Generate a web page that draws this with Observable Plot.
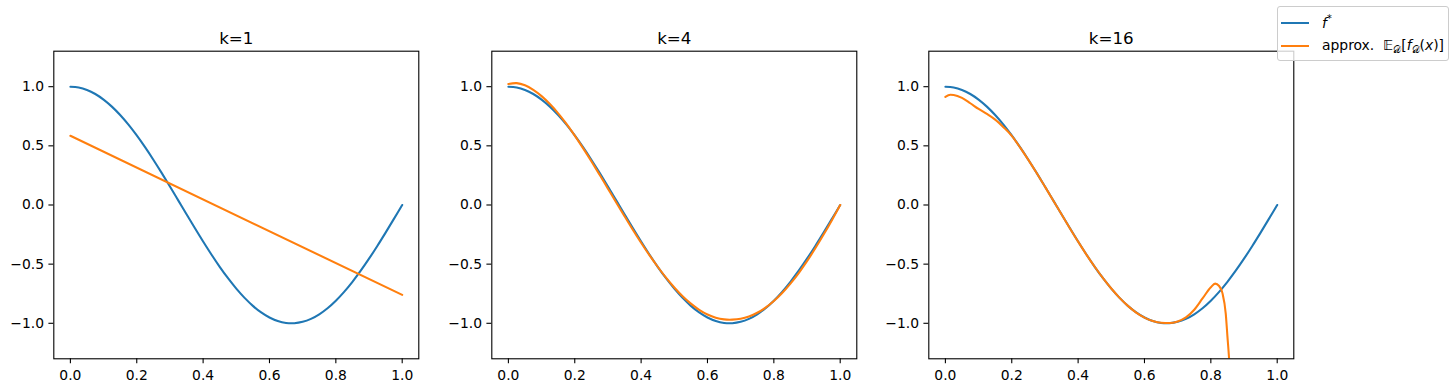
<!DOCTYPE html>
<html>
<head>
<meta charset="utf-8">
<script src="https://cdn.jsdelivr.net/npm/d3@7"></script>
<script src="https://cdn.jsdelivr.net/npm/@observablehq/plot@0.6"></script>
<style>
  html, body { margin: 0; padding: 0; background: #fff; }
  #fig { position: relative; width: 1456px; height: 392px; overflow: hidden; background: #fff; font-family: "DejaVu Sans", sans-serif; }
  .panel { position: absolute; top: 0; }
  #legend { position: absolute; left: 1277px; top: 6px; width: 170px; height: 53px; border: 1px solid #cccccc; border-radius: 3px; background: rgba(255,255,255,0.8); font-size: 13.9px; color: #000; }
  .entry { position: absolute; left: 0; height: 18px; }
  .swatch { position: absolute; left: 3px; width: 28px; height: 2px; }
  .lab { position: absolute; left: 44px; white-space: nowrap; line-height: 16px; }
  .lab sub { font-size: 9.7px; vertical-align: -3px; line-height: 0; }
  .lab sup { font-size: 9.7px; vertical-align: 6px; line-height: 0; }
</style>
</head>
<body>
<div id="fig">
  <div id="legend">
    <div class="entry" style="top:8px;"><div class="swatch" style="top:7px;background:#1f77b4;"></div><div class="lab" style="top:0px;"><i>f</i><sup>*</sup></div></div>
    <div class="entry" style="top:30px;"><div class="swatch" style="top:7.7px;background:#ff7f0e;"></div><div class="lab" style="top:0px;">approx.&nbsp;&nbsp;𝔼<sub>𝒟</sub>[<i>f</i><sub>𝒟</sub>(<i>x</i>)]</div></div>
  </div>
</div>
<script>
// ---- data ----
const titles = ["k=1", "k=4", "k=16"];
const xTicks = [0, 0.2, 0.4, 0.6, 0.8, 1.0];
const yTicks = [-1, -0.5, 0, 0.5, 1];

// common x grid for f*
const xGrid = [0, 0.025, 0.05, 0.075, 0.1, 0.125, 0.15, 0.175, 0.2, 0.225, 0.25, 0.275, 0.3, 0.325, 0.35, 0.375, 0.4, 0.425, 0.45, 0.475, 0.5, 0.525, 0.55, 0.575, 0.6, 0.625, 0.65, 0.675, 0.7, 0.725, 0.75, 0.775, 0.8, 0.825, 0.85, 0.875, 0.9, 0.925, 0.95, 0.975, 1.0];

// f* (blue, same in every panel)
const fStar = [1.0, 0.9931, 0.9724, 0.9382, 0.8910, 0.8315, 0.7604, 0.6788, 0.5878, 0.4886, 0.3827, 0.2714, 0.1564, 0.0393, -0.0785, -0.1951, -0.3090, -0.4187, -0.5225, -0.6191, -0.7071, -0.7853, -0.8526, -0.9081, -0.9511, -0.9808, -0.9969, -0.9992, -0.9877, -0.9625, -0.9239, -0.8725, -0.8090, -0.7343, -0.6494, -0.5556, -0.4540, -0.3461, -0.2334, -0.1175, 0.0];

// k=1 approximation (orange, straight line)
const approxK1X = [0, 1];
const approxK1Y = [0.585, -0.760];

// k=4 approximation (orange) on xGrid
const approxK4Y = [1.023, 1.030, 1.012, 0.973, 0.920, 0.853, 0.775, 0.686, 0.587, 0.481, 0.370, 0.255, 0.138, 0.021, -0.095, -0.209, -0.319, -0.424, -0.522, -0.614, -0.697, -0.771, -0.834, -0.886, -0.926, -0.953, -0.967, -0.969, -0.962, -0.943, -0.911, -0.868, -0.812, -0.744, -0.664, -0.575, -0.475, -0.366, -0.250, -0.128, 0.0];

// k=16 approximation (orange)
const approxK16X = [0, 0.015, 0.025, 0.05, 0.075, 0.1, 0.125, 0.15, 0.175, 0.2, 0.225, 0.25, 0.275, 0.3, 0.325, 0.35, 0.375, 0.4, 0.425, 0.45, 0.475, 0.5, 0.525, 0.55, 0.575, 0.6, 0.625, 0.65, 0.675, 0.7, 0.725, 0.75, 0.775, 0.8, 0.813, 0.825, 0.835, 0.845, 0.85, 0.855, 0.86, 0.87];
const approxK16Y = [0.913, 0.932, 0.930, 0.905, 0.860, 0.812, 0.770, 0.722, 0.658, 0.585, 0.487, 0.381, 0.270, 0.155, 0.038, -0.079, -0.196, -0.310, -0.419, -0.522, -0.618, -0.706, -0.785, -0.853, -0.909, -0.952, -0.981, -0.996, -0.998, -0.984, -0.950, -0.885, -0.790, -0.695, -0.665, -0.685, -0.745, -0.920, -1.110, -1.300, -1.550, -2.200];

// ---- build ----
const zip = (xs, ys) => xs.map((x, i) => ({x, y: ys[i]}));
const blueData = zip(xGrid, fStar);
const orangeSets = [
  {data: zip(approxK1X, approxK1Y), curve: "linear"},
  {data: zip(xGrid, approxK4Y), curve: "catmull-rom"},
  {data: zip(approxK16X, approxK16Y), curve: "monotone-x"}
];
const fmt = d => d.toFixed(1).replace("-", "\u2212");

const ML = 53.3, FW = 365, MR = 10, MT = 50.7, MB = 33.7;
const lefts = [0, 437.7, 875.4];
const fig = document.getElementById("fig");

titles.forEach((t, i) => {
  const svg = Plot.plot({
    width: ML + FW + MR,
    height: 392,
    marginLeft: ML, marginRight: MR, marginTop: MT, marginBottom: MB,
    style: {fontFamily: "DejaVu Sans, sans-serif", fontSize: "13.9px", color: "#000", background: "transparent", overflow: "visible"},
    x: {domain: [-0.05, 1.05]},
    y: {domain: [-1.3, 1.3]},
    marks: [
      Plot.axisX({ticks: xTicks, tickFormat: fmt, tickSize: 4.9, tickPadding: 6.5, strokeWidth: 1.1, fontSize: 13.9, label: null, color: "#000"}),
      Plot.axisY({ticks: yTicks, tickFormat: fmt, tickSize: 4.9, tickPadding: 4.9, strokeWidth: 1.1, fontSize: 13.9, label: null, color: "#000"}),
      Plot.line(blueData, {x: "x", y: "y", stroke: "#1f77b4", strokeWidth: 2.08, curve: "catmull-rom", clip: true}),
      Plot.line(orangeSets[i].data, {x: "x", y: "y", stroke: "#ff7f0e", strokeWidth: 2.08, curve: orangeSets[i].curve, clip: true}),
      Plot.frame({stroke: "#000", strokeWidth: 1.1}),
      Plot.text([t], {frameAnchor: "top", lineAnchor: "bottom", dy: -7.5, fontSize: 16.7, fill: "#000"})
    ]
  });
  svg.classList.add("panel");
  svg.style.left = lefts[i] + "px";
  fig.insertBefore(svg, document.getElementById("legend"));
});
</script>
</body>
</html>
